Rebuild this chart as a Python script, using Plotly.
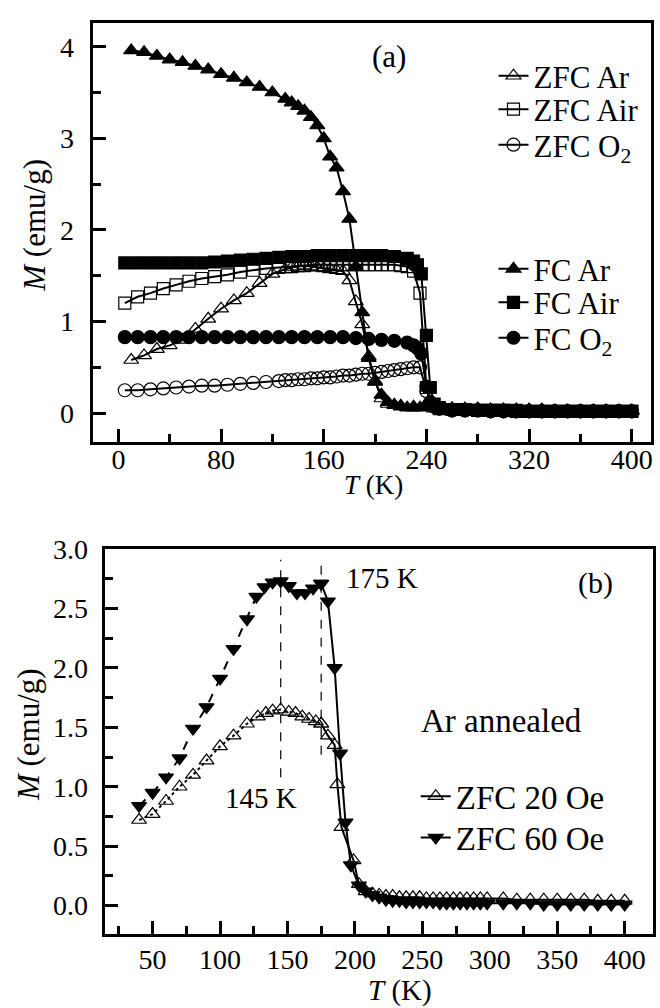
import plotly.graph_objects as go

W, H = 660, 1008
FONT = "Liberation Serif, Times New Roman, Times, serif"

# ---------------- Panel (a) data ----------------
T_zfc_ar = [10, 20, 30, 40, 50, 60, 70, 80, 90, 100, 110, 120, 130, 135, 140, 145, 150, 155, 160, 165,
            170, 175, 180, 185, 190, 195, 200, 205, 210, 215, 220, 230, 240, 250, 260, 270, 280, 290, 300,
            310, 320, 330, 340, 350, 360, 370, 380, 390, 400]
M_zfc_ar = [0.58, 0.63, 0.70, 0.74, 0.80, 0.92, 1.03, 1.14, 1.23, 1.31, 1.42, 1.52, 1.57, 1.59, 1.60, 1.61,
            1.60, 1.59, 1.58, 1.57, 1.56, 1.55, 1.45, 1.22, 0.97, 0.62, 0.35, 0.16, 0.10, 0.09, 0.08, 0.07,
            0.07, 0.06, 0.05, 0.05, 0.05, 0.04, 0.04, 0.04, 0.04, 0.04, 0.03, 0.03, 0.03, 0.03, 0.03, 0.03, 0.03]

T_zfc_air = [5, 15, 25, 35, 45, 55, 65, 75, 85, 95, 105, 115, 125, 135, 140, 145, 150, 155, 160, 165, 170,
             175, 180, 185, 190, 195, 200, 205, 210, 215, 220, 225, 230, 235, 240, 245, 250, 260, 270, 280,
             290, 300, 310, 320, 330, 340, 350, 360, 370, 380, 390, 400]
M_zfc_air = [1.20, 1.27, 1.31, 1.36, 1.40, 1.44, 1.47, 1.49, 1.51, 1.54, 1.56, 1.58, 1.59, 1.60, 1.61, 1.61,
             1.62, 1.62, 1.62, 1.62, 1.62, 1.62, 1.62, 1.62, 1.62, 1.62, 1.62, 1.62, 1.62, 1.62, 1.61, 1.60,
             1.55, 1.31, 0.28, 0.08, 0.05, 0.04, 0.04, 0.03, 0.03, 0.03, 0.03, 0.02, 0.02, 0.02, 0.02, 0.02,
             0.02, 0.02, 0.02, 0.02]

T_zfc_o2 = [5, 15, 25, 35, 45, 55, 65, 75, 85, 95, 105, 115, 125, 130, 135, 140, 145, 150, 155, 160, 165,
            170, 175, 180, 185, 190, 195, 200, 205, 210, 215, 220, 225, 230, 235, 240, 245, 250, 260, 270,
            280, 290, 300, 310, 320, 330, 340, 350, 360, 370, 380, 390, 400]
M_zfc_o2 = [0.25, 0.25, 0.26, 0.27, 0.28, 0.29, 0.30, 0.30, 0.31, 0.32, 0.33, 0.34, 0.35, 0.36, 0.36, 0.37,
            0.37, 0.38, 0.38, 0.39, 0.39, 0.40, 0.41, 0.41, 0.42, 0.43, 0.43, 0.44, 0.45, 0.46, 0.47, 0.48,
            0.49, 0.50, 0.50, 0.24, 0.08, 0.05, 0.03, 0.03, 0.03, 0.02, 0.02, 0.02, 0.02, 0.02, 0.02, 0.02,
            0.02, 0.02, 0.02, 0.02, 0.02]

T_fc_ar = [10, 20, 30, 40, 50, 60, 70, 80, 90, 100, 110, 120, 130, 135, 140, 145, 150, 155, 160, 165, 170,
           175, 180, 185, 190, 195, 200, 205, 210, 215, 220, 225, 230, 235, 240, 245, 250, 260, 270, 280,
           290, 300, 310, 320, 330, 340, 350, 360, 370, 380, 390, 400]
M_fc_ar = [3.96, 3.94, 3.90, 3.86, 3.83, 3.79, 3.75, 3.70, 3.66, 3.61, 3.56, 3.50, 3.43, 3.39, 3.35, 3.30,
           3.23, 3.14, 3.00, 2.80, 2.68, 2.42, 2.12, 1.60, 1.10, 0.60, 0.34, 0.20, 0.12, 0.09, 0.07, 0.06,
           0.06, 0.06, 0.10, 0.12, 0.07, 0.05, 0.04, 0.04, 0.03, 0.03, 0.03, 0.02, 0.02, 0.02, 0.02, 0.02,
           0.02, 0.02, 0.02, 0.02]

T_fc_air = [5, 15, 25, 35, 45, 55, 65, 75, 85, 95, 105, 115, 125, 135, 145, 155, 165, 175, 185, 195, 205,
            215, 225, 230, 233, 236, 240, 243, 246, 250, 260, 270, 280, 290, 300, 310, 320, 330, 340, 350,
            360, 370, 380, 390, 400]
M_fc_air = [1.64, 1.64, 1.64, 1.64, 1.64, 1.64, 1.64, 1.65, 1.66, 1.67, 1.68, 1.69, 1.70, 1.71, 1.71, 1.72,
            1.72, 1.72, 1.72, 1.72, 1.72, 1.71, 1.69, 1.66, 1.62, 1.52, 0.85, 0.28, 0.10, 0.06, 0.04, 0.04,
            0.03, 0.03, 0.03, 0.02, 0.02, 0.02, 0.02, 0.02, 0.02, 0.02, 0.02, 0.02, 0.02]

T_fc_o2 = [5, 15, 25, 35, 45, 55, 65, 75, 85, 95, 105, 115, 125, 135, 145, 155, 165, 175, 185, 195, 205,
           215, 225, 230, 233, 236, 240, 243, 246, 250, 260, 270, 280, 290, 300, 310, 320, 330, 340, 350,
           360, 370, 380, 390, 400]
M_fc_o2 = [0.83, 0.83, 0.83, 0.83, 0.83, 0.83, 0.83, 0.83, 0.83, 0.83, 0.83, 0.83, 0.83, 0.83, 0.83, 0.83,
           0.83, 0.83, 0.82, 0.81, 0.80, 0.79, 0.77, 0.74, 0.71, 0.65, 0.29, 0.12, 0.07, 0.05, 0.03, 0.03,
           0.03, 0.02, 0.02, 0.02, 0.02, 0.02, 0.02, 0.02, 0.02, 0.02, 0.02, 0.02, 0.02]

# ---------------- Panel (b) data ----------------
T_20oe = [40, 50, 60, 70, 80, 90, 100, 110, 120, 128, 134, 139, 145, 151, 156, 161, 166, 171, 175, 180,
          185, 187, 190, 199, 203, 208, 213, 218, 223, 228, 233, 238, 243, 248, 253, 258, 263, 268, 273,
          278, 283, 288, 293, 298, 310, 320, 330, 340, 350, 360, 370, 380, 390, 400]
M_20oe = [0.72, 0.77, 0.88, 1.00, 1.10, 1.22, 1.34, 1.43, 1.53, 1.59, 1.62, 1.64, 1.65, 1.63, 1.62, 1.59,
          1.57, 1.55, 1.53, 1.43, 1.35, 1.02, 0.66, 0.38, 0.18, 0.12, 0.10, 0.09, 0.08, 0.08, 0.07, 0.07,
          0.07, 0.07, 0.06, 0.06, 0.06, 0.06, 0.06, 0.06, 0.06, 0.06, 0.06, 0.06, 0.06, 0.05, 0.05, 0.05,
          0.05, 0.05, 0.05, 0.04, 0.04, 0.04]

T_60oe = [40, 50, 60, 70, 80, 90, 100, 110, 120, 127, 133, 139, 145, 151, 157, 163, 169, 175, 180, 185,
          189, 193, 197, 203, 208, 213, 218, 223, 228, 233, 238, 243, 248, 253, 258, 263, 268, 273, 278,
          283, 288, 293, 298, 310, 320, 330, 340, 350, 360, 370, 380, 390, 400]
M_60oe = [0.84, 0.95, 1.08, 1.24, 1.49, 1.67, 1.91, 2.16, 2.41, 2.60, 2.68, 2.72, 2.73, 2.69, 2.63, 2.63,
          2.67, 2.71, 2.56, 2.00, 1.28, 0.70, 0.34, 0.17, 0.12, 0.09, 0.07, 0.05, 0.04, 0.04, 0.03, 0.03,
          0.03, 0.03, 0.03, 0.02, 0.02, 0.02, 0.02, 0.02, 0.02, 0.02, 0.02, 0.02, 0.02, 0.02, 0.01, 0.01,
          0.01, 0.01, 0.01, 0.01, 0.01]

T_split = 175           # dashed/dotted below, solid above (panel b)
T_marks = [145, 175]    # vertical guide lines
M_mark_low = [1.08, 1.27]
M_mark_top = 2.91
mark_labels = ["145 K", "175 K"]

BLACK = "black"


def px_x(p):
    return p / W


def px_y(p):
    return 1 - p / H


fig = go.Figure()


def add(T, M, name, symbol, xa, ya, legend, size=13, dash="solid", showlegend=True):
    fig.add_trace(go.Scatter(
        x=T, y=M, name=name, mode="lines+markers", xaxis=xa, yaxis=ya, legend=legend,
        showlegend=showlegend,
        line=dict(color=BLACK, width=2, dash=dash),
        marker=dict(symbol=symbol, size=size, color=BLACK, line=dict(color=BLACK, width=1.2)),
    ))


# panel (a) – each legend entry gets its own legend box for exact placement
add(T_zfc_ar, M_zfc_ar, "ZFC Ar", "triangle-up-open", "x", "y", "legend")
add(T_zfc_air, M_zfc_air, "ZFC Air", "square-open", "x", "y", "legend2", size=12)
add(T_zfc_o2, M_zfc_o2, "ZFC O<sub>2</sub>", "circle-open", "x", "y", "legend3")
add(T_fc_ar, M_fc_ar, "FC Ar", "triangle-up", "x", "y", "legend4")
add(T_fc_air, M_fc_air, "FC Air", "square", "x", "y", "legend5", size=12)
add(T_fc_o2, M_fc_o2, "FC O<sub>2</sub>", "circle", "x", "y", "legend6")


def split(T, M):
    lo = [(t, m) for t, m in zip(T, M) if t <= T_split]
    hi = [(t, m) for t, m in zip(T, M) if t >= T_split]
    return [a for a, _ in lo], [b for _, b in lo], [a for a, _ in hi], [b for _, b in hi]


t1, m1, t2, m2 = split(T_20oe, M_20oe)
add(t1, m1, "ZFC 20 Oe", "triangle-up-open", "x2", "y2", "legend7", dash="dot", showlegend=False)
add(t2, m2, "ZFC 20 Oe", "triangle-up-open", "x2", "y2", "legend7")
t1, m1, t2, m2 = split(T_60oe, M_60oe)
add(t1, m1, "ZFC 60 Oe", "triangle-down", "x2", "y2", "legend8", dash="dash", showlegend=False)
add(t2, m2, "ZFC 60 Oe", "triangle-down", "x2", "y2", "legend8")

for t, mlow in zip(T_marks, M_mark_low):
    fig.add_shape(type="line", xref="x2", yref="y2", x0=t, x1=t, y0=mlow, y1=M_mark_top,
                  line=dict(color=BLACK, width=1.2, dash="dash"))

axis_common = dict(
    showline=True, linewidth=3, linecolor=BLACK, mirror=True,
    ticks="inside", ticklen=13, tickwidth=3, tickcolor=BLACK,
    showgrid=False, zeroline=False,
    tickfont=dict(family=FONT, size=28, color=BLACK),
)
minor_common = dict(ticks="inside", ticklen=8, tickwidth=3, tickcolor=BLACK)


def leg(xpx, ypx, size):
    return dict(x=px_x(xpx), y=px_y(ypx), xanchor="left", yanchor="middle", bgcolor="rgba(0,0,0,0)",
                font=dict(family=FONT, size=size, color=BLACK), tracegroupgap=0)


fig.update_layout(
    width=W, height=H,
    margin=dict(l=0, r=0, t=0, b=0),
    paper_bgcolor="white", plot_bgcolor="white",
    font=dict(family=FONT, color=BLACK),
    xaxis=dict(axis_common, domain=[px_x(93), px_x(653)], anchor="y", range=[-20, 415],
               tick0=0, dtick=80, ticklabelstandoff=-9, minor=dict(minor_common, dtick=40)),
    yaxis=dict(axis_common, domain=[px_y(433), px_y(8)], anchor="x", range=[-0.31, 4.26],
               tick0=0, dtick=1, ticklabelstandoff=10, minor=dict(minor_common, dtick=0.5)),
    xaxis2=dict(axis_common, domain=[px_x(105), px_x(655)], anchor="y2", range=[14.5, 421],
                tick0=0, dtick=50, ticklabelstandoff=-2, minor=dict(minor_common, dtick=25)),
    yaxis2=dict(axis_common, domain=[px_y(933), px_y(542)], anchor="x2", range=[-0.24, 3.001],
                tick0=0, dtick=0.5, tickformat=".1f", ticklabelstandoff=8,
                minor=dict(minor_common, dtick=0.25)),
    legend=leg(495, 62, 31),
    legend2=leg(495, 96, 31),
    legend3=leg(495, 132, 31),
    legend4=leg(495, 258, 31),
    legend5=leg(495, 292, 31),
    legend6=leg(495, 328, 31),
    legend7=leg(417, 793, 33),
    legend8=leg(417, 835, 33),
)


def ann(text, x, y, size, angle=0):
    fig.add_annotation(text=text, x=px_x(x), y=px_y(y), xref="paper", yref="paper",
                       showarrow=False, xanchor="center", yanchor="middle", textangle=angle,
                       font=dict(family=FONT, size=size, color=BLACK))


ann("(a)", 390, 42, 31)
ann("(b)", 597, 577, 30)
ann(mark_labels[1], 383, 572, 29)
ann(mark_labels[0], 262, 795, 29)
ann("Ar annealed", 503, 717, 33)
ann("<i>M</i> (emu/g)", 35, 213, 31, angle=-90)
ann("<i>M</i> (emu/g)", 28, 730, 31, angle=-90)
ann("<i>T</i> (K)", 375, 477, 27)
ann("<i>T</i> (K)", 401, 990, 29)

fig.write_html("out.html")
